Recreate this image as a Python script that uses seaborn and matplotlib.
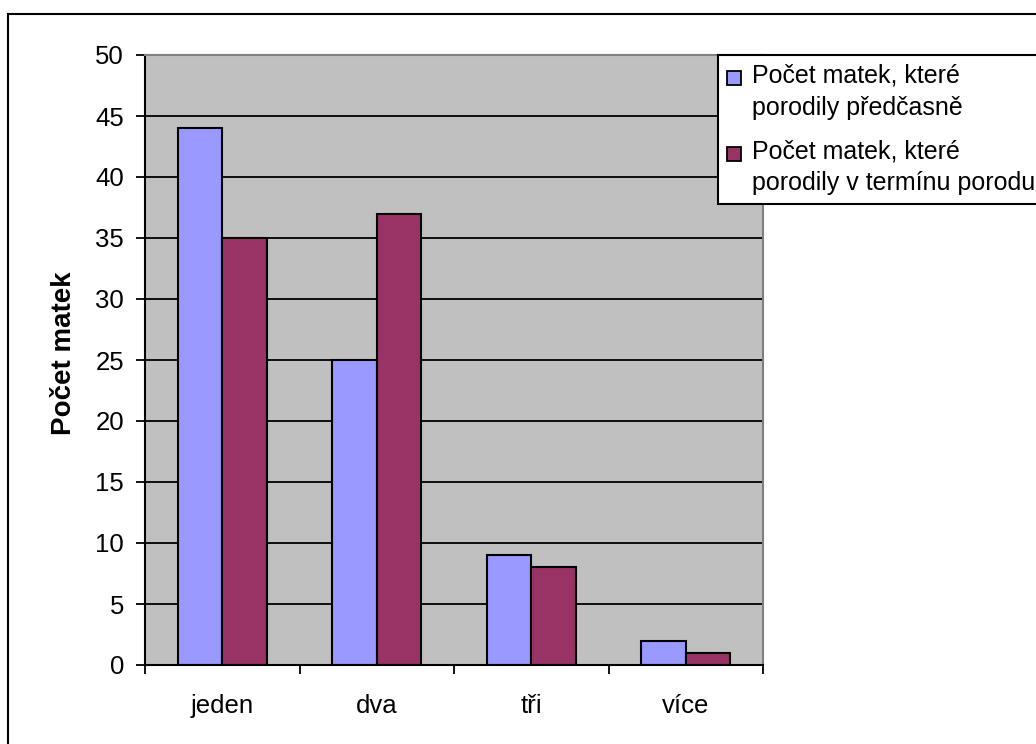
import matplotlib
matplotlib.use("Agg")
import matplotlib.pyplot as plt
import seaborn as sns
import pandas as pd
from matplotlib.patches import Rectangle
from matplotlib.legend_handler import HandlerPatch

# Data
categories = ["jeden", "dva", "tři", "více"]
predcasne = [44, 25, 9, 2]
v_terminu = [35, 37, 8, 1]
series_names = [
    "Počet matek, které\nporodily předčasně",
    "Počet matek, které\nporodily v termínu porodu",
]
series_colors = ["#9999FF", "#993366"]
y_ticks = [0, 5, 10, 15, 20, 25, 30, 35, 40, 45, 50]
y_label = "Počet matek"

df = pd.DataFrame({
    "kategorie": categories * 2,
    "pocet": predcasne + v_terminu,
    "skupina": [series_names[0]] * len(categories) + [series_names[1]] * len(categories),
})

sns.set_theme(style="white")
plt.rcParams["font.family"] = ["Liberation Sans", "DejaVu Sans"]
plt.rcParams["text.color"] = "black"

W, H = 1036, 744
fig = plt.figure(figsize=(W / 100, H / 100), dpi=100)
fig.patch.set_facecolor("white")

ax = fig.add_axes([145 / W, 1 - 665 / H, (763 - 145) / W, (665 - 55) / H])
sns.barplot(
    data=df, x="kategorie", y="pocet", hue="skupina",
    palette=series_colors, saturation=1, width=0.577,
    edgecolor="black", linewidth=1.5, ax=ax, legend=False,
)

ax.set_facecolor("#C0C0C0")
ax.set_xlim(-0.5, len(categories) - 0.5)
ax.set_ylim(0, 50)
ax.set_yticks(y_ticks)
ax.set_yticklabels([str(v) for v in y_ticks])
ax.yaxis.grid(True, color="black", linewidth=1.3)
ax.xaxis.grid(False)
ax.set_axisbelow(True)

for side in ("left", "bottom"):
    ax.spines[side].set_color("black")
    ax.spines[side].set_linewidth(1.5)
for side in ("top", "right"):
    ax.spines[side].set_color("#808080")
    ax.spines[side].set_linewidth(1.5)
    ax.spines[side].set_visible(True)

ax.tick_params(axis="y", which="major", left=True, direction="out", length=6.5,
               width=1.3, color="black", pad=8.5, labelsize=18.5, labelcolor="black")
ax.tick_params(axis="x", which="major", bottom=True, length=0, pad=21,
               labelsize=18.5, labelcolor="black")
ax.set_xticks([i - 0.5 for i in range(len(categories) + 1)], minor=True)
ax.tick_params(axis="x", which="minor", bottom=True, direction="out", length=6.5,
               width=1.3, color="black")

ax.set_xlabel("")
ax.set_ylabel(y_label, fontsize=20, fontweight="bold", labelpad=13, color="black")
ax.yaxis.label.set_y(0.511)

# Legend: square marker sits beside the first line of each two-line label
LINE_STEP = 1.18  # baseline-to-baseline distance, in font sizes


def top_square(legend, orig_handle, xdescent, ydescent, width, height, fontsize):
    side = width
    return Rectangle((-xdescent, 0.5 * LINE_STEP * fontsize + 0.05 * fontsize), side, side)


handles = [Rectangle((0, 0), 1, 1, facecolor=c, edgecolor="black", linewidth=1.3)
           for c in series_colors]
leg = fig.legend(
    handles, series_names, loc="upper left",
    bbox_to_anchor=(718 / W, 1 - 55 / H), bbox_transform=fig.transFigure,
    borderaxespad=0, borderpad=0.36, handlelength=0.56, handleheight=0.7,
    handletextpad=0.44, labelspacing=0.8, fontsize=18, frameon=True,
    fancybox=False, shadow=False,
    handler_map={Rectangle: HandlerPatch(patch_func=top_square)},
)
frame = leg.get_frame()
frame.set_edgecolor("black")
frame.set_linewidth(1.5)
frame.set_facecolor("white")
frame.set_alpha(1)
for t in leg.get_texts():
    t.set_linespacing(1.40)

# Chart border (left and top edges fall inside the image)
border = Rectangle((8 / W, -0.5), 1.5, (1 - 14 / H) + 0.5, transform=fig.transFigure,
                   fill=False, edgecolor="black", linewidth=1.5)
fig.add_artist(border)

fig.savefig("out.png", dpi=100, facecolor="white")
